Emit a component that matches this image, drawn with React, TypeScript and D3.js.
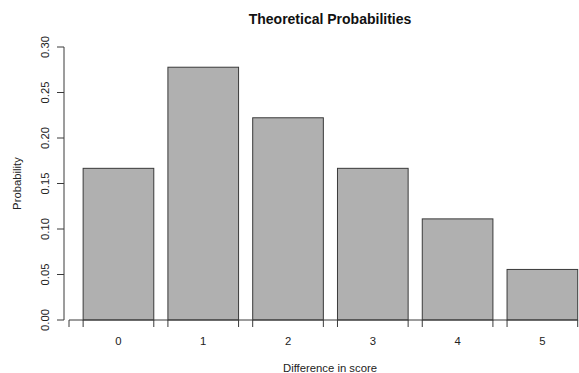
import React, { useEffect, useRef } from "react";
import * as d3 from "d3";

const categories = ["0", "1", "2", "3", "4", "5"];
const probabilities = [6 / 36, 10 / 36, 8 / 36, 6 / 36, 4 / 36, 2 / 36];
const yTicks = [0, 0.05, 0.1, 0.15, 0.2, 0.25, 0.3];

export default function App() {
    const svgRef = useRef<SVGSVGElement>(null);
    const width = 579;
    const height = 373;
    const font = "'Liberation Sans', Arial, sans-serif";
    const ink = "#222";
    const lineCol = "#3a3a3a";

    useEffect(() => {
        const svg = d3.select(svgRef.current);
        svg.selectAll("*").remove();

        // band scale: R barplot layout (space = 0.2, gap sits left of each bar)
        const x = d3.scaleBand<string>()
            .domain(categories)
            .range([69, 577.7])
            .paddingInner(1 / 6)
            .paddingOuter(1 / 12)
            .align(1);

        const y = d3.scaleLinear()
            .domain([0, 0.3])
            .range([320, 47]);

        // bars
        svg.append("g")
            .selectAll("rect")
            .data(probabilities)
            .join("rect")
            .attr("x", (d, i) => x(categories[i])!)
            .attr("y", (d) => y(d))
            .attr("width", x.bandwidth())
            .attr("height", (d) => y(0) - y(d))
            .attr("fill", "#b0b0b0")
            .attr("stroke", lineCol)
            .attr("stroke-width", 1);

        // x axis: line with ticks at every bar edge
        const edges = [x.range()[0]];
        categories.forEach((c) => {
            edges.push(x(c)!);
            edges.push(x(c)! + x.bandwidth());
        });
        const xa = svg.append("g");
        xa.append("line")
            .attr("x1", edges[0]).attr("x2", edges[edges.length - 1])
            .attr("y1", y(0)).attr("y2", y(0))
            .attr("stroke", lineCol);
        xa.selectAll("line.tick")
            .data(edges)
            .join("line")
            .attr("class", "tick")
            .attr("x1", (d) => d).attr("x2", (d) => d)
            .attr("y1", y(0)).attr("y2", y(0) + 7)
            .attr("stroke", lineCol);
        xa.selectAll("text")
            .data(categories)
            .join("text")
            .attr("x", (d) => x(d)! + x.bandwidth() / 2)
            .attr("y", 345)
            .attr("text-anchor", "middle")
            .attr("font-family", font)
            .attr("font-size", 11.3)
            .attr("fill", ink)
            .text((d) => d);

        // y axis
        const ya = svg.append("g").attr("transform", "translate(64,0)");
        ya.append("line")
            .attr("y1", y(0)).attr("y2", y(0.3))
            .attr("stroke", lineCol);
        ya.selectAll("line.tick")
            .data(yTicks)
            .join("line")
            .attr("class", "tick")
            .attr("x1", 0).attr("x2", -7)
            .attr("y1", (d) => y(d)).attr("y2", (d) => y(d))
            .attr("stroke", lineCol);
        ya.selectAll("text")
            .data(yTicks)
            .join("text")
            .attr("transform", (d) => `translate(-15.5,${y(d)}) rotate(-90)`)
            .attr("text-anchor", "middle")
            .attr("font-family", font)
            .attr("font-size", 11.3)
            .attr("fill", ink)
            .text((d) => d.toFixed(2));

        // titles
        svg.append("text")
            .attr("x", 330).attr("y", 23.5)
            .attr("text-anchor", "middle")
            .attr("font-family", font)
            .attr("font-size", 14)
            .attr("font-weight", "bold")
            .attr("fill", "#111")
            .text("Theoretical Probabilities");

        svg.append("text")
            .attr("x", 330).attr("y", 372)
            .attr("text-anchor", "middle")
            .attr("font-family", font)
            .attr("font-size", 11.3)
            .attr("fill", ink)
            .text("Difference in score");

        svg.append("text")
            .attr("transform", `translate(21,${y(0.15)}) rotate(-90)`)
            .attr("text-anchor", "middle")
            .attr("font-family", font)
            .attr("font-size", 11.3)
            .attr("fill", ink)
            .text("Probability");
    }, []);

    return (
        <svg
            ref={svgRef}
            width={width}
            height={height}
            style={{ position: "absolute", left: 0, top: 0, background: "#fff" }}
        ></svg>
    );
}
